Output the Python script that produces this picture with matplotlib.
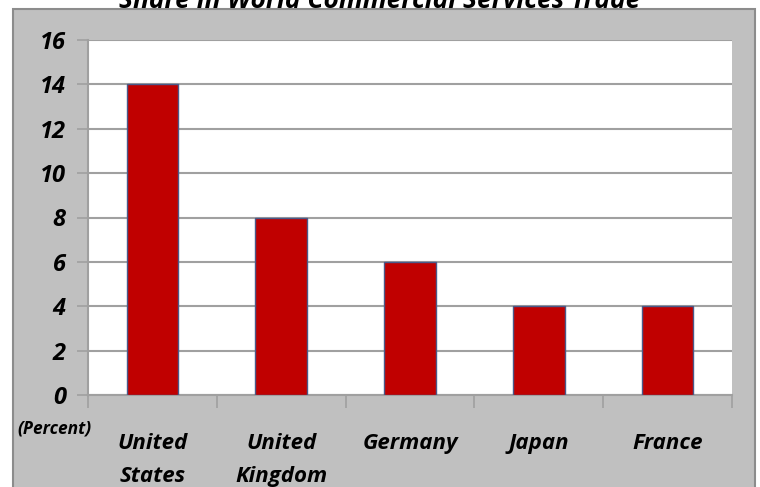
import matplotlib.pyplot as plt
import matplotlib.patches as patches

# Données
pays = ["United\nStates", "United\nKingdom", "Germany", "Japan", "France"]
parts = [14, 8, 6, 4, 4]
graduations = [0, 2, 4, 6, 8, 10, 12, 14, 16]

plt.rcParams['font.family'] = ['Open Sans', 'DejaVu Sans']

fig = plt.figure(figsize=(7.6, 4.87), dpi=100)
fig.patch.set_facecolor('white')

# Panneau gris de fond avec bordure
panneau = patches.Rectangle((13 / 760, -0.05), (755 - 13) / 760, 1.05 - 9 / 487,
                            transform=fig.transFigure, facecolor='#C0C0C0',
                            edgecolor='#8C8C8C', linewidth=1.5, zorder=-5)
fig.patches.append(panneau)

ax = fig.add_axes([88 / 760, 1 - 395 / 487, (732 - 88) / 760, (395 - 40) / 487])
ax.set_facecolor('white')

x = range(len(pays))
ax.bar(x, parts, width=0.4, color='#C00000', edgecolor='#4A5A8A', linewidth=1, zorder=3)

ax.set_xlim(-0.5, len(pays) - 0.5)
ax.set_ylim(0, 16)
ax.set_yticks(graduations)
ax.set_yticklabels([str(g) for g in graduations], fontsize=17, fontstyle='italic',
                   fontweight='bold', color='black')
ax.yaxis.grid(True, color='#A0A0A0', linewidth=1.5, zorder=0)
ax.set_axisbelow(True)
ax.tick_params(axis='y', length=8, color='#A0A0A0', width=1.2, pad=8)

# Graduations des catégories aux frontières
ax.set_xticks([i - 0.5 for i in range(len(pays) + 1)])
ax.set_xticklabels([])
ax.tick_params(axis='x', length=9, color='#A0A0A0', width=1.2)
for i, nom in enumerate(pays):
    ax.text(i, -1.7, nom, ha='center', va='top', fontsize=16, fontstyle='italic',
            fontweight='bold', linespacing=1.75)

for cote in ['top', 'right']:
    ax.spines[cote].set_visible(False)
for cote in ['left', 'bottom']:
    ax.spines[cote].set_color('#A0A0A0')
    ax.spines[cote].set_linewidth(1.5)

fig.text(54 / 760, 1 - 429 / 487, "(Percent)", ha='center', va='center', fontsize=12.5,
         fontstyle='italic', fontweight='bold')

# Titre coupé en haut de l'image
fig.text(380 / 760, 1 - 1 / 487, "Share in World Commercial Services Trade", ha='center',
         va='center', fontsize=19, fontstyle='italic', fontweight='bold', zorder=5)

fig.savefig('out.png', dpi=100)
